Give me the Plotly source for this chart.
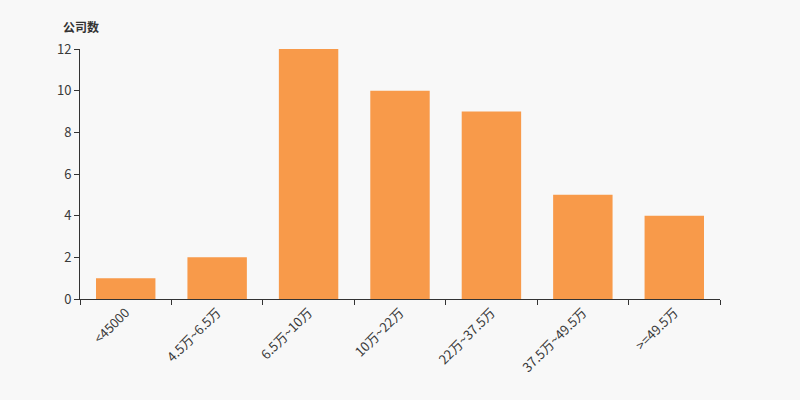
import plotly.graph_objects as go

categories = ["<45000", "4.5万~6.5万", "6.5万~10万", "10万~22万", "22万~37.5万", "37.5万~49.5万", ">=49.5万"]
counts = [1, 2, 12, 10, 9, 5, 4]
y_ticks = [0, 2, 4, 6, 8, 10, 12]

fig = go.Figure(go.Bar(x=categories, y=counts, marker=dict(color="#f89a4a", line=dict(width=0)), width=0.65))

font_family = "Noto Sans CJK SC, Microsoft YaHei, sans-serif"
fig.update_layout(
    width=800, height=400,
    paper_bgcolor="#f8f8f8", plot_bgcolor="#f8f8f8",
    margin=dict(l=80, r=80, t=49, b=101),
    showlegend=False,
    font=dict(family=font_family, size=13, color="#333333"),
)
fig.add_annotation(text="<b>公司数</b>", xref="paper", yref="paper", x=-0.03, y=1.09,
                   xanchor="left", yanchor="middle", showarrow=False,
                   font=dict(size=12, color="#333333", family=font_family))
fig.update_xaxes(
    type="category", showline=True, linecolor="#333333", linewidth=1,
    ticks="outside", tickson="boundaries", ticklen=5, tickcolor="#333333",
    tickangle=-45, showgrid=False, tickfont=dict(size=13, color="#3a3a3a"),
)
fig.update_yaxes(
    range=[0, 12], tickvals=y_ticks, showline=True, linecolor="#333333", linewidth=1,
    ticks="outside", ticklen=5, tickcolor="#333333", showgrid=False, zeroline=False,
    tickfont=dict(size=13, color="#3a3a3a"),
)
fig.write_html("out.html", config={"displayModeBar": False},
               post_script="document.body.style.margin='0';")
